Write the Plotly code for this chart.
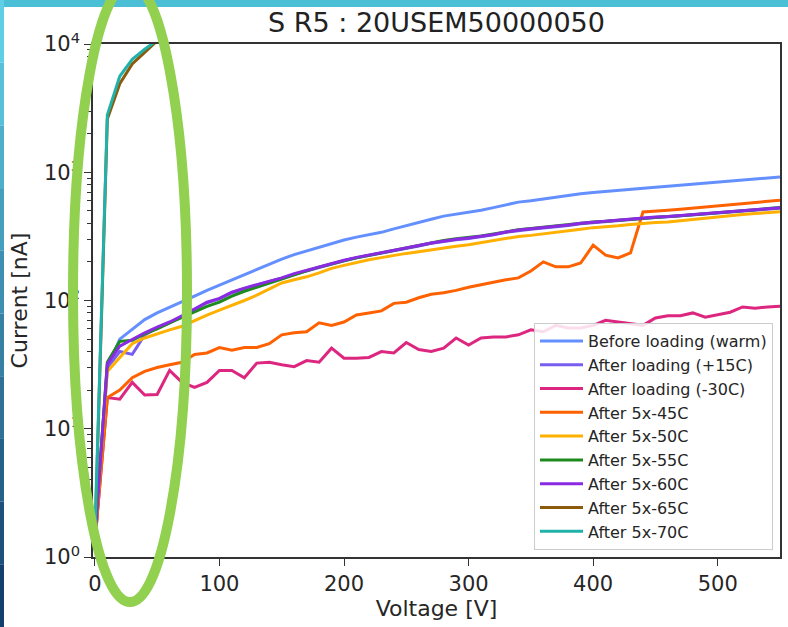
import plotly.graph_objects as go

# ---------------- data ----------------
voltage = [0, 10, 20, 30, 40, 50, 60, 70, 80, 90,
           100, 110, 120, 130, 140, 150, 160, 170, 180, 190,
           200, 210, 220, 230, 240, 250, 260, 270, 280, 290,
           300, 310, 320, 330, 340, 350, 360, 370, 380, 390,
           400, 410, 420, 430, 440, 450, 460, 470, 480, 490,
           500, 510, 520, 530, 540, 550]

before_warm = [1.5, 30, 50, 60, 71, 80, 88, 97, 108, 120,
               132, 145, 160, 175, 192, 210, 228, 244, 262, 280,
               296, 312, 326, 340, 362, 385, 405, 430, 455, 470,
               485, 505, 530, 560, 585, 600, 620, 640, 660, 680,
               695, 710, 725, 740, 752, 765, 778, 792, 806, 820,
               833, 850, 866, 882, 900, 918]

after_p15 = [1.2, 30, 40, 38, 54, 61, 67, 75, 85, 96,
             103, 115, 124, 132, 141, 149, 160, 170, 182, 194,
             204, 215, 224, 234, 245, 256, 266, 279, 290, 298,
             305, 313, 325, 340, 352, 360, 367, 375, 385, 397,
             405, 409, 417, 427, 437, 444, 449, 457, 465, 474,
             482, 492, 502, 512, 520, 525]

after_m30 = [1.3, 17.5, 17, 23, 18.3, 18.5, 28.5, 23, 21, 23,
             28.5, 28.5, 25, 32.5, 33, 31.5, 30.5, 34, 33, 42.5,
             35.5, 35.5, 36, 40, 39, 47, 41.5, 40, 42.5, 51,
             45, 51, 52, 52, 54, 59, 57, 64, 61, 61,
             64, 70, 68, 66, 64, 73, 76, 76, 80, 74,
             77, 81, 89, 87, 89, 90]

after_45 = [1.3, 17.5, 20, 25, 28, 30, 31.5, 33, 38, 39,
            43, 41, 43, 43, 46, 54, 56, 57, 67, 64,
            68, 77, 80, 83, 95, 97, 105, 112, 115, 120,
            127, 133, 140, 145, 150, 170, 200, 183, 183, 196,
            270, 226, 215, 235, 490, 495, 505, 515, 525, 535,
            545, 555, 565, 580, 595, 605]

after_50 = [1.4, 28, 36, 46, 51, 55, 59, 63, 70, 77,
            84, 91, 100, 110, 122, 137, 145, 153, 164, 178,
            188, 198, 208, 216, 225, 233, 240, 249, 257, 265,
            272, 283, 295, 306, 316, 322, 330, 340, 350, 360,
            370, 375, 383, 392, 400, 405, 410, 420, 430, 440,
            450, 460, 468, 476, 484, 492]

after_55 = [1.4, 33, 48, 49, 55, 60, 67, 74, 82, 90,
            97, 108, 118, 127, 138, 148, 160, 170, 182, 194,
            204, 215, 225, 236, 248, 258, 270, 282, 294, 303,
            310, 318, 330, 344, 356, 364, 372, 380, 390, 402,
            410, 414, 422, 430, 438, 445, 451, 458, 466, 475,
            483, 492, 502, 512, 521, 530]

after_60 = [1.4, 32, 44, 50, 56, 62, 68, 76, 86, 97,
            104, 116, 125, 133, 142, 150, 162, 172, 184, 196,
            206, 217, 226, 236, 247, 258, 268, 281, 292, 300,
            307, 315, 327, 342, 355, 363, 370, 378, 388, 400,
            408, 412, 420, 430, 440, 447, 452, 460, 468, 477,
            485, 495, 504, 513, 521, 528]

after_65 = [1.3, 2600, 4900, 7000, 8600, 10600]
after_70 = [1.5, 2800, 5600, 7600, 9100, 10700]

names = ["Before loading (warm)", "After loading (+15C)", "After loading (-30C)",
         "After 5x-45C", "After 5x-50C", "After 5x-55C", "After 5x-60C",
         "After 5x-65C", "After 5x-70C"]
series = [before_warm, after_p15, after_m30, after_45, after_50,
          after_55, after_60, after_65, after_70]
colors = ["#648FFF", "#785EF0", "#DC267F", "#FE6100", "#FFB000",
          "#1E8A1E", "#8A2BE2", "#8B5A0B", "#20B2AA"]

ytick_vals = [1, 10, 100, 1000, 10000]
ytick_text = ["10<sup>0</sup>", "10<sup>1</sup>", "10<sup>2</sup>",
              "10<sup>3</sup>", "10<sup>4</sup>"]
xtick_vals = [0, 100, 200, 300, 400, 500]
minor_vals = [k * 10 ** d for d in range(4) for k in range(2, 10)]

# ---------------- figure ----------------
W, H = 788, 627
L, R, T, B = 93, 8, 44, 70
PW, PH = W - L - R, H - T - B


def px2x(px):
    return (px - L) / PW


def px2y(py):
    return (H - B - py) / PH


fig = go.Figure()
for name, vals, col in zip(names, series, colors):
    fig.add_trace(go.Scatter(x=voltage[:len(vals)], y=vals, mode="lines",
                             name=name, line=dict(color=col, width=3)))

font_family = "DejaVu Sans"
axis_common = dict(showline=True, linecolor="#333333", linewidth=1.5, mirror=True,
                   ticks="outside", ticklen=7, tickwidth=1.3, tickcolor="#333333",
                   showgrid=False, zeroline=False, automargin=False,
                   tickfont=dict(family=font_family, size=21, color="#262626"))

shapes = []
# slide background: top band
shapes.append(dict(type="rect", xref="paper", yref="paper",
                   x0=px2x(0), x1=px2x(W), y0=px2y(7), y1=px2y(0),
                   fillcolor="#4BBFD6", line=dict(width=0), layer="below"))
# slide background: left strip (gradient slices)
top_rgb = (95, 207, 230)
bot_rgb = (21, 64, 110)
n = 10
for i in range(n):
    t = i / (n - 1)
    c = tuple(int(round(top_rgb[j] + (bot_rgb[j] - top_rgb[j]) * t)) for j in range(3))
    shapes.append(dict(type="rect", xref="paper", yref="paper",
                       x0=px2x(0), x1=px2x(4),
                       y0=px2y(H * (i + 1) / n), y1=px2y(H * i / n),
                       fillcolor="rgb(%d,%d,%d)" % c, line=dict(width=0), layer="below"))
# green highlight ellipse
shapes.append(dict(type="circle", xref="paper", yref="paper",
                   x0=px2x(73), x1=px2x(187), y0=px2y(602), y1=px2y(-17),
                   line=dict(color="#92D050", width=10), fillcolor="rgba(0,0,0,0)",
                   layer="above"))

fig.update_layout(
    width=W, height=H, autosize=False,
    margin=dict(l=L, r=R, t=T, b=B),
    paper_bgcolor="white", plot_bgcolor="white",
    font=dict(family=font_family, color="#262626"),
    title=dict(text="S R5 : 20USEM50000050", x=0.5, xref="paper", xanchor="center",
               y=1 - 23 / H, yref="container", yanchor="middle",
               font=dict(family=font_family, size=27, color="#222222")),
    xaxis=dict(range=[-1.5, 550], tickvals=xtick_vals,
               title=dict(text="Voltage [V]", standoff=6,
                          font=dict(family=font_family, size=22, color="#262626")),
               **axis_common),
    yaxis=dict(type="log", range=[0, 4], tickvals=ytick_vals, ticktext=ytick_text,
               minor=dict(tickvals=minor_vals, ticks="outside", ticklen=4,
                          tickcolor="#333333", tickwidth=1, showgrid=False),
               title=dict(text="Current [nA]", standoff=10,
                          font=dict(family=font_family, size=22, color="#262626")),
               **axis_common),
    legend=dict(x=px2x(773), y=px2y(550), xanchor="right", yanchor="bottom",
                bgcolor="rgba(255,255,255,0.85)", bordercolor="#cccccc", borderwidth=1,
                font=dict(family=font_family, size=16, color="#262626"),
                tracegroupgap=0, itemwidth=43),
    shapes=shapes,
    showlegend=True,
)

fig.write_html("out.html", config={"displayModeBar": False},
               post_script="document.body.style.margin='0';document.body.style.overflow='hidden';")
